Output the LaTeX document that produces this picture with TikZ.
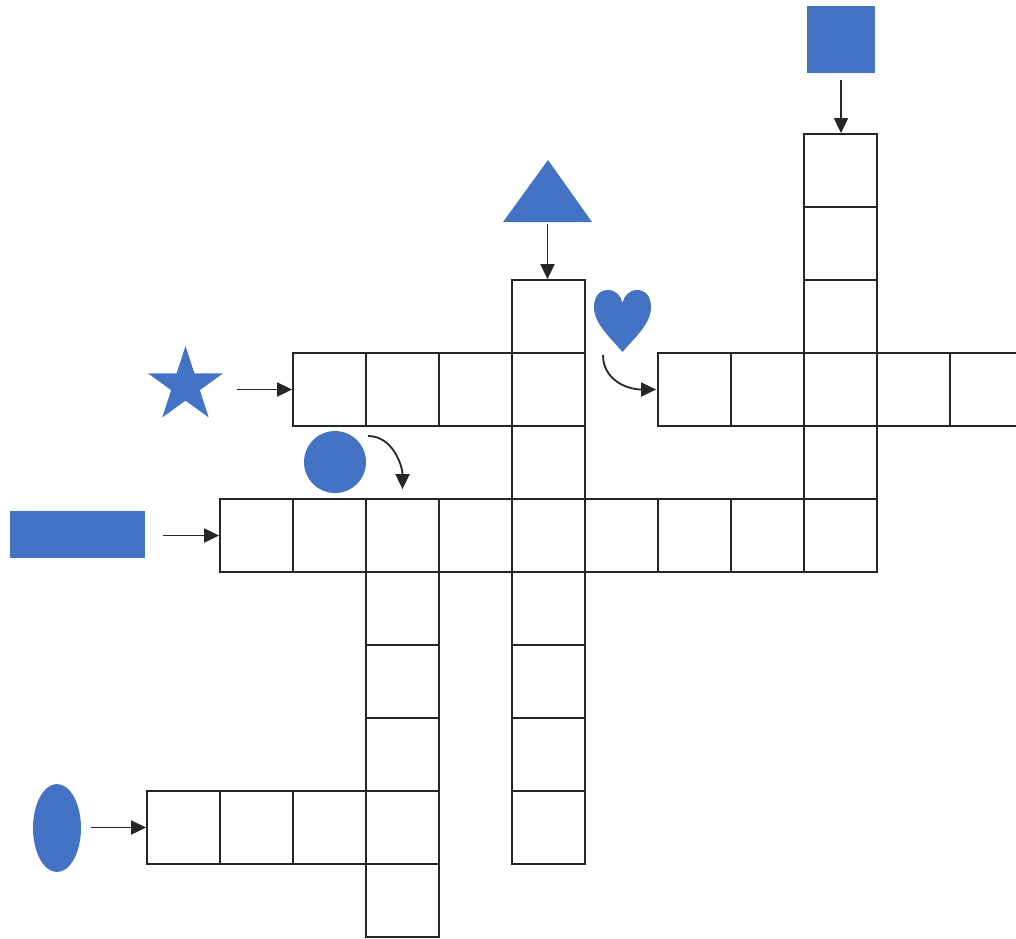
\documentclass[tikz,border=0pt]{standalone}
\usepackage{tikz}
\usepackage{xcolor}
\usetikzlibrary{arrows.meta,shapes.geometric}
\definecolor{gridink}{HTML}{262626}
\definecolor{clueblue}{HTML}{4472C4}

\begin{document}
\begin{tikzpicture}[x=1pt,y=-1pt,
    cell/.style={draw=gridink,line width=1.8pt,minimum size=73pt,inner sep=0pt},
    clue/.style={fill=clueblue,draw=none,inner sep=0pt},
    link/.style={draw=gridink,line width=1.8pt,-{Triangle[length=15pt,width=14pt]}}]
  \useasboundingbox (0,0) rectangle (1016,938);
  % down words
  \foreach \r in {0,...,5} \node[cell] (c-\r-9) at ({183.5+73*9},{170.5+73*\r}) {};
  \foreach \r in {2,...,9} \node[cell] (c-\r-5) at ({183.5+73*5},{170.5+73*\r}) {};
  \foreach \r in {5,...,10} \node[cell] (c-\r-3) at ({183.5+73*3},{170.5+73*\r}) {};
  % across words
  \foreach \c in {7,...,11} \node[cell] (c-3-\c) at ({183.5+73*\c},{170.5+73*3}) {};
  \foreach \c in {2,...,5} \node[cell] (c-3-\c) at ({183.5+73*\c},{170.5+73*3}) {};
  \foreach \c in {1,...,9} \node[cell] (c-5-\c) at ({183.5+73*\c},{170.5+73*5}) {};
  \foreach \c in {0,...,3} \node[cell] (c-9-\c) at ({183.5+73*\c},{170.5+73*9}) {};

  % clue shapes
  \node[clue,minimum width=68pt,minimum height=67pt] (sq) at (841,39.5) {};
  \fill[clueblue] (503,222) -- (548,160) -- (592,222) -- cycle;
  \coordinate (tri-base) at (547.5,222);
  \fill[clueblue] (622.5,352) .. controls (610,337) and (594,324) .. (594,307)
    .. controls (594,296) and (600,290) .. (608,290)
    .. controls (616,290) and (621,296) .. (622.5,303)
    .. controls (624,296) and (629,290) .. (637,290)
    .. controls (645,290) and (651,296) .. (651,307)
    .. controls (651,324) and (635,337) .. (622.5,352) -- cycle;
  \coordinate (heart-out) at (603,355);
  \node[clue,star,star points=5,star point ratio=2.618,minimum size=79pt] (star) at (185.5,385.5) {};
  \node[clue,circle,minimum size=62pt] (dot) at (335,462) {};
  \coordinate (dot-out) at (368,436);
  \node[clue,minimum width=135pt,minimum height=47pt] (bar) at (77.5,534.5) {};
  \node[clue,ellipse,minimum width=48pt,minimum height=88pt] (oval) at (57,828) {};

  % arrows
  \draw[link,shorten <=7pt] (sq.south) -- (sq.south |- c-0-9.north);
  \draw[link,shorten <=2pt] (tri-base) -- (tri-base |- c-2-5.north);
  \draw[link,shorten >=1pt] (heart-out) .. controls +(0,25) and +(-30,0) .. (c-3-7.west);
  \draw[link,shorten <=13pt] (star.outer point 5 |- c-3-2) -- (c-3-2.west);
  \draw[link,shorten >=9pt] (dot-out) .. controls +(25,0) and +(0,-32) .. (c-5-3.north);
  \draw[link,shorten <=18pt] (bar.east |- c-5-1) -- (c-5-1.west);
  \draw[link,shorten <=10pt] (oval.east |- c-9-0) -- (c-9-0.west);
\end{tikzpicture}
\end{document}
